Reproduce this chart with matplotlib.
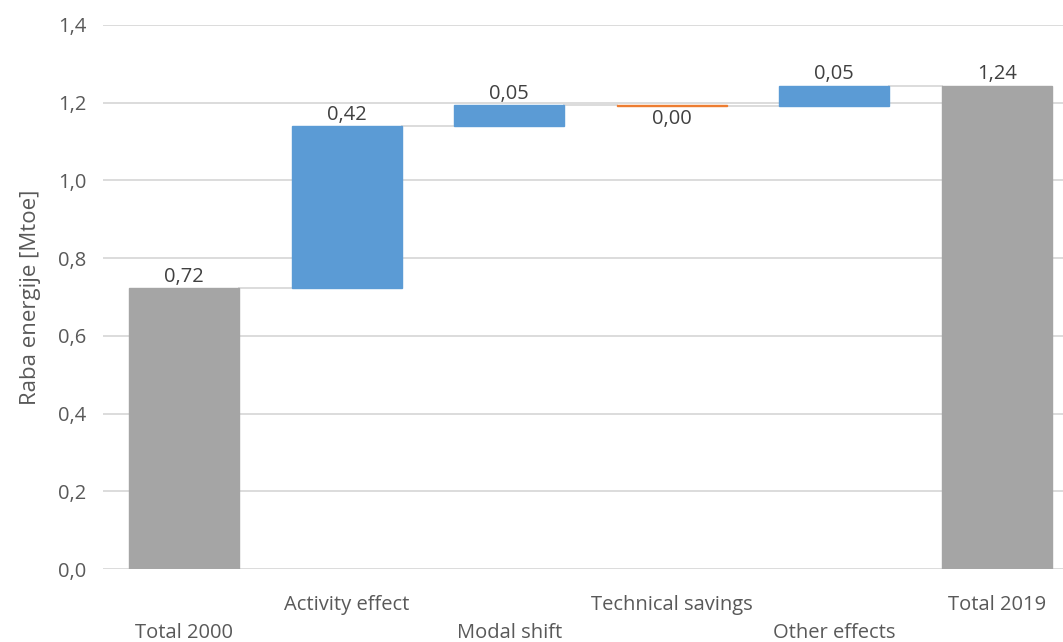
"""
Waterfall chart: decomposition of energy use change between 2000 and 2019.
"""

import matplotlib.pyplot as plt

categories = ["Total 2000", "Activity effect", "Modal shift",
              "Technical savings", "Other effects", "Total 2019"]
start_total = 0.722
effects = [0.418, 0.054, -0.002, 0.052]
end_total = 1.244
y_ticks = [0.0, 0.2, 0.4, 0.6, 0.8, 1.0, 1.2, 1.4]

GREY = "#a5a5a5"
BLUE = "#5b9bd5"
ORANGE = "#ed7d31"
GRID = "#d9d9d9"


def fmt(v):
    return f"{abs(v):.2f}".replace(".", ",")


def main() -> None:
    plt.rcParams["font.family"] = ["Open Sans", "DejaVu Sans"]

    fig = plt.figure(figsize=(10.63, 6.42), dpi=100)
    ax = fig.add_axes([0.0969, 0.1137, 0.9172, 0.8474])

    width = 0.675
    xs = list(range(len(categories)))

    # bottoms / heights for each bar
    bottoms = [0.0]
    heights = [start_total]
    colors = [GREY]
    running = start_total
    for e in effects:
        bottoms.append(running)
        heights.append(e)
        colors.append(BLUE if e > 0 else ORANGE)
        running += e
    bottoms.append(0.0)
    heights.append(end_total)
    colors.append(GREY)

    for y in y_ticks:
        ax.axhline(y, color=GRID, lw=1.3, zorder=0)

    ax.bar(xs, heights, bottom=bottoms, width=width, color=colors,
           edgecolor=colors, linewidth=1.0, zorder=3)

    # connector lines between consecutive bars
    tops = [b + h for b, h in zip(bottoms, heights)]
    for i in range(len(xs) - 1):
        ax.plot([xs[i] + width / 2, xs[i + 1] - width / 2], [tops[i], tops[i]],
                color=GRID, lw=1.3, zorder=1)

    for x, b, h in zip(xs, bottoms, heights):
        if h >= 0:
            ax.annotate(fmt(h), (x, b + h), xytext=(0, 1), textcoords="offset points",
                        ha="center", va="bottom", fontsize=14.5, color="#404040")
        else:
            ax.annotate(fmt(h), (x, b + h), xytext=(0, -2), textcoords="offset points",
                        ha="center", va="top", fontsize=14.5, color="#404040")

    ax.set_xlim(-0.5, 5.5)
    ax.set_ylim(0, 1.4)
    ax.set_yticks(y_ticks)
    ax.set_yticklabels([f"{v:.1f}".replace(".", ",") for v in y_ticks])
    ax.set_xticks(xs)
    ax.set_xticklabels([("\n" + c) if i % 2 == 0 else c for i, c in enumerate(categories)],
                       linespacing=1.5)
    ax.tick_params(length=0, labelsize=14.5, labelcolor="#595959")
    ax.tick_params(axis="x", pad=19)
    ax.tick_params(axis="y", pad=12)
    for s in ax.spines.values():
        s.set_visible(False)
    ax.set_ylabel("Raba energije [Mtoe]", fontsize=16, color="#595959", labelpad=12)

    fig.savefig("out.png", dpi=100)


if __name__ == "__main__":
    main()
